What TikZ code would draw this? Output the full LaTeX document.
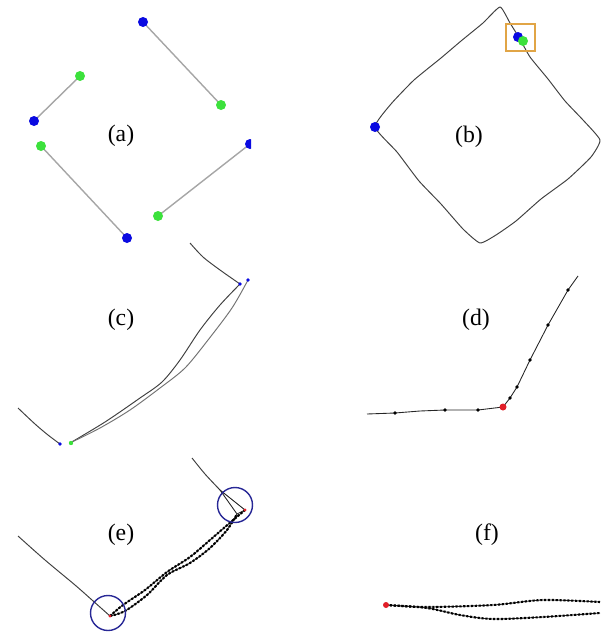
\documentclass[tikz,border=0pt]{standalone}
\usepackage{fontspec}
\setmainfont{Liberation Serif}
\definecolor{ptblue}{RGB}{10,10,225}
\definecolor{ptgreen}{RGB}{60,225,60}
\definecolor{boxorange}{RGB}{225,165,70}
\definecolor{ringblue}{RGB}{40,40,150}
\definecolor{tipred}{RGB}{225,30,40}
\tikzset{
    lbl/.style={font=\fontsize{13.5}{16}\selectfont, inner sep=0pt},
    seg/.style={gray!70, line width=0.8pt},
    stroke/.style={black!75, line width=0.55pt, line join=round},
    track/.style={black!85, line width=0.5pt},
    trackdots/.style={black, line width=1.2pt, densely dotted}
}

\begin{document}
\begin{tikzpicture}[x=0.02cm, y=-0.02cm]
    \useasboundingbox (0,0) rectangle (605,632);

    % (a)
    \begin{scope}
        \clip (0,0) rectangle (251,250);
        \draw[seg] (143,22) -- (221,105);
        \draw[seg] (34,121) -- (80,76);
        \draw[seg] (41,146) -- (127,238);
        \draw[seg] (158,216) -- (250,144);
        \foreach \p in {(143,22),(34,121),(127,238),(250,144)}
            \fill[ptblue] \p circle (5);
        \foreach \p in {(80,76),(221,105),(41,146),(158,216)}
            \fill[ptgreen] \p circle (5);
    \end{scope}
    \node[lbl] (la) at (121,136) {(a)};

    % (b)
    \draw[stroke] plot[smooth, tension=0.3] coordinates {(520,39) (530,57) (548,79) (565,101) (583,120) (600,140)
        (591,157) (568,179) (541,199) (516,221) (496,235) (480,243)
        (463,229) (441,204) (419,181) (397,152) (375,127)
        (391,104) (414,80) (441,58) (461,41) (483,23) (500,7) (510,23) (520,39)};
    \fill[ptblue] (375,127) circle (5);
    \fill[ptblue] (518,37) circle (5);
    \fill[ptgreen] (523,41) circle (5);
    \draw[boxorange, line width=0.8pt] (506,24) rectangle (535,51);
    \node[lbl] (lb) at (469,137) {(b)};

    % (c)
    \draw[stroke] plot[smooth] coordinates {(190,243) (203,257) (220,270) (240,284)};
    \draw[stroke] plot[smooth] coordinates {(18,408) (35,424) (48,435) (60,444)};
    \draw[stroke] plot[smooth] coordinates {(240,284) (220,305) (200,330) (180,360) (162,382) (140,398) (105,422) (70,443)};
    \draw[stroke, black!55] plot[smooth] coordinates {(248,280) (232,308) (208,340) (185,368) (160,388) (130,410) (100,428) (72,442)};
    \fill[ptblue] (240,284) circle (1.8);
    \fill[ptblue] (248,280) circle (1.8);
    \fill[ptblue] (60,444) circle (1.8);
    \fill[ptgreen] (71,443) circle (2.2);
    \node[lbl] (lc) at (121,320) {(c)};

    % (d)
    \draw[track] (367,414) -- (395,413) -- (420,411) -- (445,410) -- (478,410) -- (503,407)
        -- (510,398) -- (517,387) -- (530,360) -- (548,325) -- (568,290) -- (578,276);
    \foreach \p in {(395,413),(445,410),(478,410),(510,398),(517,387),(530,360),(548,325),(568,290)}
        \fill \p circle (1.8);
    \fill[tipred] (503,407) circle (3.5);
    \node[lbl] (ld) at (476,320) {(d)};

    % (e)
    \draw[stroke] plot[smooth] coordinates {(18,536) (45,560) (75,585) (92,600) (110,616)};
    \draw[stroke] plot[smooth] coordinates {(192,458) (205,474) (220,490)};
    \draw[track] (220,490) -- (245,510) -- (237,514) -- cycle;
    \foreach \s in {track,trackdots} {
        \draw[\s] plot[smooth] coordinates {(110,616) (123,605) (145,590) (167,572) (190,557) (210,540) (225,527) (245,510)};
        \draw[\s] plot[smooth] coordinates {(110,616) (125,611) (147,595) (167,575) (190,563) (210,548) (227,530) (237,514)};
    }
    \fill[tipred] (110,616) circle (1.6);
    \fill[tipred] (245,510) circle (1.6);
    \draw[ringblue, line width=0.8pt] (235,505) circle (17.5);
    \draw[ringblue, line width=0.8pt] (108,613) circle (17.5);
    \node[lbl] (le) at (121,535) {(e)};

    % (f)
    \foreach \s in {track,trackdots} {
        \draw[\s] plot[smooth] coordinates {(386,605) (427,607) (493,605) (543,600) (600,602)};
        \draw[\s] plot[smooth] coordinates {(386,605) (427,608) (460,615) (493,619) (543,617) (600,613)};
    }
    \fill[tipred] (386,605) circle (3);
    \node[lbl] (lf) at (487,535) {(f)};
\end{tikzpicture}
\end{document}
